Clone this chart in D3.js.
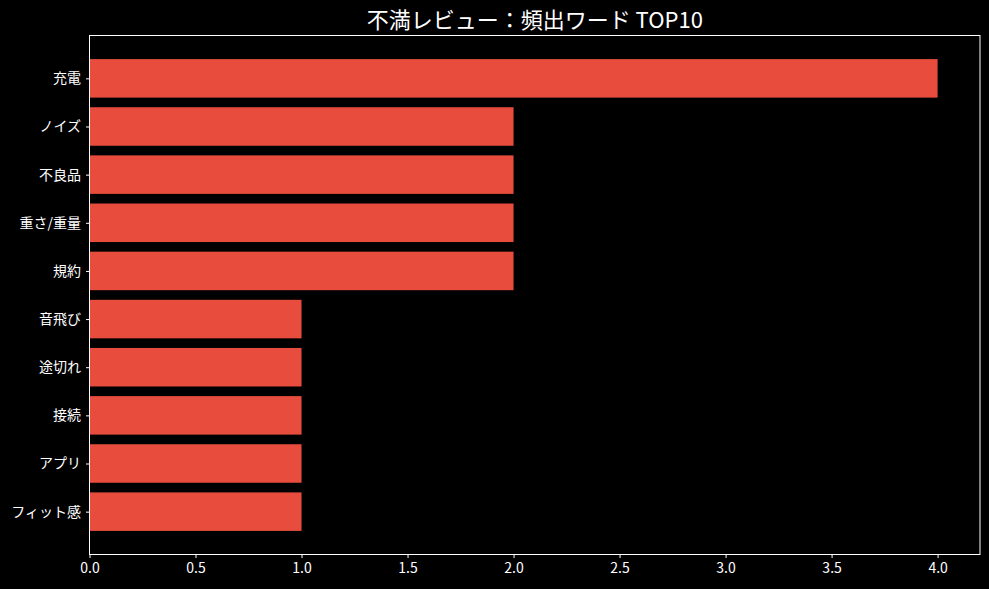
<!DOCTYPE html>
<html lang="ja">
  <head>
    <meta charset="utf-8">
    <script src="https://d3js.org/d3.v7.min.js"></script>
    <style>
    body { margin: 0; background: #000; }
    svg text { font-family: "Noto Sans CJK JP", "DejaVu Sans", sans-serif; fill: #fff; }
    .axis path, .axis line { stroke: #fff; }
    </style>
    <title>不満レビュー</title>
  </head>
  <body>
    <script>
// data
var words = ['充電', 'ノイズ', '不良品', '重さ/重量', '規約', '音飛び', '途切れ', '接続', 'アプリ', 'フィット感'];
var counts = [4, 2, 2, 2, 2, 1, 1, 1, 1, 1];
var xTicks = [0, 0.5, 1, 1.5, 2, 2.5, 3, 3.5, 4];

var w = 989, h = 589;
var m = {left: 89.5, right: 9, top: 35.5, bottom: 34.5};

var svg = d3.select('body').append('svg')
  .attr('width', w).attr('height', h);

svg.append('rect').attr('width', w).attr('height', h).attr('fill', '#000');

var x = d3.scaleLinear().domain([0, 4.2]).range([m.left, w - m.right]);
// matplotlib-like margins around bar positions
var y = d3.scaleLinear().domain([-0.89, 9.89]).range([m.top, h - m.bottom]);

// bars
svg.append('g').selectAll('rect')
  .data(counts)
  .enter().append('rect')
  .attr('x', x(0))
  .attr('y', function(d, i) { return y(i - 0.4); })
  .attr('width', function(d) { return x(d) - x(0); })
  .attr('height', function(d, i) { return y(i + 0.4) - y(i - 0.4); })
  .attr('fill', '#e74c3c');

// frame
svg.append('rect')
  .attr('x', m.left).attr('y', m.top)
  .attr('width', w - m.right - m.left)
  .attr('height', h - m.bottom - m.top)
  .attr('fill', 'none').attr('stroke', '#fff').attr('stroke-width', 1);

// x axis
var xAxis = svg.append('g').attr('class', 'axis')
  .attr('transform', 'translate(0,' + (h - m.bottom) + ')')
  .call(d3.axisBottom(x).tickValues(xTicks).tickFormat(d3.format('.1f')).tickSize(3.5).tickPadding(5));
xAxis.select('.domain').remove();
xAxis.selectAll('text').style('font-size', '14px');

// y axis
var yAxis = svg.append('g').attr('class', 'axis')
  .attr('transform', 'translate(' + m.left + ',0)')
  .call(d3.axisLeft(y).tickValues(d3.range(words.length))
    .tickFormat(function(i) { return words[i]; }).tickSize(3.5).tickPadding(5));
yAxis.select('.domain').remove();
yAxis.selectAll('text').style('font-size', '14px');

// title
svg.append('text')
  .attr('x', (m.left + w - m.right) / 2)
  .attr('y', 28)
  .attr('text-anchor', 'middle')
  .style('font-size', '22px')
  .text('不満レビュー：頻出ワード TOP10');
    </script>
  </body>
</html>
